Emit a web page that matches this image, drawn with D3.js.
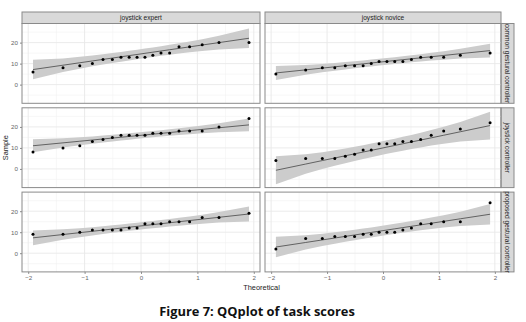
<!DOCTYPE html>
<html>
<head>
<meta charset="utf-8">
<script src="https://cdn.jsdelivr.net/npm/d3@7"></script>
<style>
  html, body { margin: 0; padding: 0; background: #fff; }
  svg { display: block; }
</style>
</head>
<body>
<div id="chart"></div>
<script>
// facet labels
const colLabels = ["joystick expert", "joystick novice"];
const rowLabels = ["common gestural controller", "joystick controller", "proposed gestural controller"];

// theoretical normal quantiles of the 18 points (same in every facet)
const theoretical = [-1.915, -1.383, -1.085, -0.862, -0.674, -0.508, -0.355, -0.210, -0.070,
                      0.070, 0.210, 0.355, 0.508, 0.674, 0.862, 1.085, 1.383, 1.915];

// sorted task scores, one array per facet
const expertCommon   = [6, 8, 9, 10, 12, 12, 13, 13, 13, 13, 14, 15, 15, 18, 18, 19, 20, 20];
const noviceCommon   = [5, 7, 8, 8, 9, 9, 9, 10, 11, 11, 11, 11, 12, 13, 13, 13, 14, 15];
const expertJoystick = [8, 10, 11, 13, 14, 15, 16, 16, 16, 16, 17, 17, 17, 18, 18, 18, 20, 24];
const noviceJoystick = [4, 5, 5, 5, 6, 7, 9, 9, 12, 12, 12, 13, 13, 14, 16, 18, 19, 22];
const expertProposed = [9, 9, 10, 11, 11, 11, 11, 12, 12, 14, 14, 14, 15, 15, 15, 17, 17, 19];
const noviceProposed = [2, 7, 7, 8, 8, 8, 9, 9, 10, 10, 10, 11, 12, 14, 14, 15, 15, 24];

const xTicks = [-2, -1, 0, 1, 2];
const xMinor = [-1.5, -0.5, 0.5, 1.5];
const yTicks = [0, 10, 20];
const yMinor = [-5, 5, 15, 25];

const samples = [
    [expertCommon, noviceCommon],
    [expertJoystick, noviceJoystick],
    [expertProposed, noviceProposed]
];

// layout (px)
const W = 526, H = 322;
const colX = [[22, 260], [265, 501]];
const stripTop = 12, stripBottom = 23.5;
const panelH = 79.8, gap = 4.5;
const rightStrip = [501, 514];

const svg = d3.select("#chart")
    .append("svg")
        .attr("width", W)
        .attr("height", H)
        .style("font-family", "'Liberation Sans', Arial, sans-serif");

const x = colX.map(r => d3.scaleLinear().domain([-2.11, 2.11]).range(r));
const rowTop = r => stripBottom + r * (panelH + gap);
const y = rowLabels.map((_, r) => d3.scaleLinear().domain([-8.9, 29.1]).range([rowTop(r) + panelH, rowTop(r)]));

// qq line through quartiles + pointwise 95% band (as qqplotr does)
const Q = 0.6745;
function qqStats(s) {
    const q1 = d3.quantile(s, 0.25), q3 = d3.quantile(s, 0.75);
    const slope = (q3 - q1) / (2 * Q);
    const intercept = q1 + Q * slope;
    const n = s.length;
    return theoretical.map((z, i) => {
        const p = (i + 0.5) / n;
        const dens = Math.exp(-z * z / 2) / Math.sqrt(2 * Math.PI);
        const se = slope / dens * Math.sqrt(p * (1 - p) / n);
        const fit = intercept + slope * z;
        return { z: z, fit: fit, lo: fit - 1.96 * se, hi: fit + 1.96 * se };
    });
}

// top strips
colLabels.forEach((lab, c) => {
    svg.append("rect")
        .attr("x", colX[c][0]).attr("y", stripTop)
        .attr("width", colX[c][1] - colX[c][0]).attr("height", stripBottom - stripTop)
        .attr("fill", "#d9d9d9").attr("stroke", "#8a8a8a").attr("stroke-width", 1);
    svg.append("text")
        .attr("x", (colX[c][0] + colX[c][1]) / 2).attr("y", (stripTop + stripBottom) / 2 + 2.3)
        .attr("text-anchor", "middle").attr("font-size", 6.6).attr("fill", "#222")
        .text(lab);
});

rowLabels.forEach((lab, r) => {
    const top = rowTop(r);
    // right strip
    svg.append("rect")
        .attr("x", rightStrip[0]).attr("y", top)
        .attr("width", rightStrip[1] - rightStrip[0]).attr("height", panelH)
        .attr("fill", "#d9d9d9").attr("stroke", "#8a8a8a").attr("stroke-width", 1);
    svg.append("text")
        .attr("transform", `translate(${(rightStrip[0] + rightStrip[1]) / 2 - 2.3}, ${top + panelH / 2}) rotate(90)`)
        .attr("text-anchor", "middle").attr("font-size", 6.6).attr("fill", "#222")
        .text(lab);

    colLabels.forEach((_, c) => {
        const xs = x[c], ys = y[r];
        const g = svg.append("g");

        // grid
        g.selectAll(".xm").data(xMinor).enter().append("line")
            .attr("x1", d => xs(d)).attr("x2", d => xs(d))
            .attr("y1", top).attr("y2", top + panelH)
            .attr("stroke", "#f2f2f2").attr("stroke-width", 0.6);
        g.selectAll(".ym").data(yMinor).enter().append("line")
            .attr("x1", colX[c][0]).attr("x2", colX[c][1])
            .attr("y1", d => ys(d)).attr("y2", d => ys(d))
            .attr("stroke", "#f2f2f2").attr("stroke-width", 0.6);
        g.selectAll(".xM").data(xTicks).enter().append("line")
            .attr("x1", d => xs(d)).attr("x2", d => xs(d))
            .attr("y1", top).attr("y2", top + panelH)
            .attr("stroke", "#e8e8e8").attr("stroke-width", 0.9);
        g.selectAll(".yM").data(yTicks).enter().append("line")
            .attr("x1", colX[c][0]).attr("x2", colX[c][1])
            .attr("y1", d => ys(d)).attr("y2", d => ys(d))
            .attr("stroke", "#e8e8e8").attr("stroke-width", 0.9);

        const s = samples[r][c];
        const st = qqStats(s);

        // band
        g.append("path")
            .datum(st)
            .attr("fill", "#cccccc")
            .attr("d", d3.area().x(d => xs(d.z)).y0(d => ys(d.lo)).y1(d => ys(d.hi)));

        // qq line
        g.append("path")
            .datum(st)
            .attr("fill", "none").attr("stroke", "#333").attr("stroke-width", 0.7)
            .attr("d", d3.line().x(d => xs(d.z)).y(d => ys(d.fit)));

        // points
        g.selectAll("circle").data(s).enter().append("circle")
            .attr("cx", (d, i) => xs(theoretical[i]))
            .attr("cy", d => ys(d))
            .attr("r", 1.5)
            .attr("fill", "#000");

        // border
        g.append("rect")
            .attr("x", colX[c][0]).attr("y", top)
            .attr("width", colX[c][1] - colX[c][0]).attr("height", panelH)
            .attr("fill", "none").attr("stroke", "#8a8a8a").attr("stroke-width", 1);

        // y axis on left column
        if (c === 0) {
            svg.append("g")
                .attr("transform", `translate(${colX[0][0]}, 0)`)
                .call(d3.axisLeft(ys).tickValues(yTicks).tickSize(2).tickPadding(2))
                .call(a => a.select(".domain").remove())
                .call(a => a.selectAll("line").attr("stroke", "#8a8a8a"))
                .call(a => a.selectAll("text").attr("font-size", 6.2).attr("fill", "#666")
                    .attr("font-family", "'Liberation Sans', Arial, sans-serif"));
        }
        // x axis on bottom row
        if (r === rowLabels.length - 1) {
            svg.append("g")
                .attr("transform", `translate(0, ${top + panelH})`)
                .call(d3.axisBottom(xs).tickValues(xTicks).tickSize(2).tickPadding(2).tickFormat(d3.format("d")))
                .call(a => a.select(".domain").remove())
                .call(a => a.selectAll("line").attr("stroke", "#8a8a8a"))
                .call(a => a.selectAll("text").attr("font-size", 6.2).attr("fill", "#666")
                    .attr("font-family", "'Liberation Sans', Arial, sans-serif"));
        }
    });
});

// axis titles
svg.append("text")
    .attr("transform", `translate(8, ${(rowTop(0) + rowTop(2) + panelH) / 2}) rotate(-90)`)
    .attr("text-anchor", "middle").attr("font-size", 7.4).attr("fill", "#222")
    .text("Sample");

svg.append("text")
    .attr("x", (colX[0][0] + colX[1][1]) / 2).attr("y", 290)
    .attr("text-anchor", "middle").attr("font-size", 7.4).attr("fill", "#222")
    .text("Theoretical");

// caption, sized to the width it has in the figure
const caption = svg.append("text")
    .attr("x", 257).attr("y", 315.5)
    .attr("text-anchor", "middle")
    .attr("font-family", "'Open Sans', Lato, sans-serif")
    .attr("font-weight", "bold").attr("font-size", 12).attr("fill", "#111")
    .text("Figure 7: QQplot of task scores");
const capW = caption.node().getComputedTextLength();
caption.attr("font-size", Math.min(13.5, 12 * 196 / capW));
</script>
</body>
</html>
